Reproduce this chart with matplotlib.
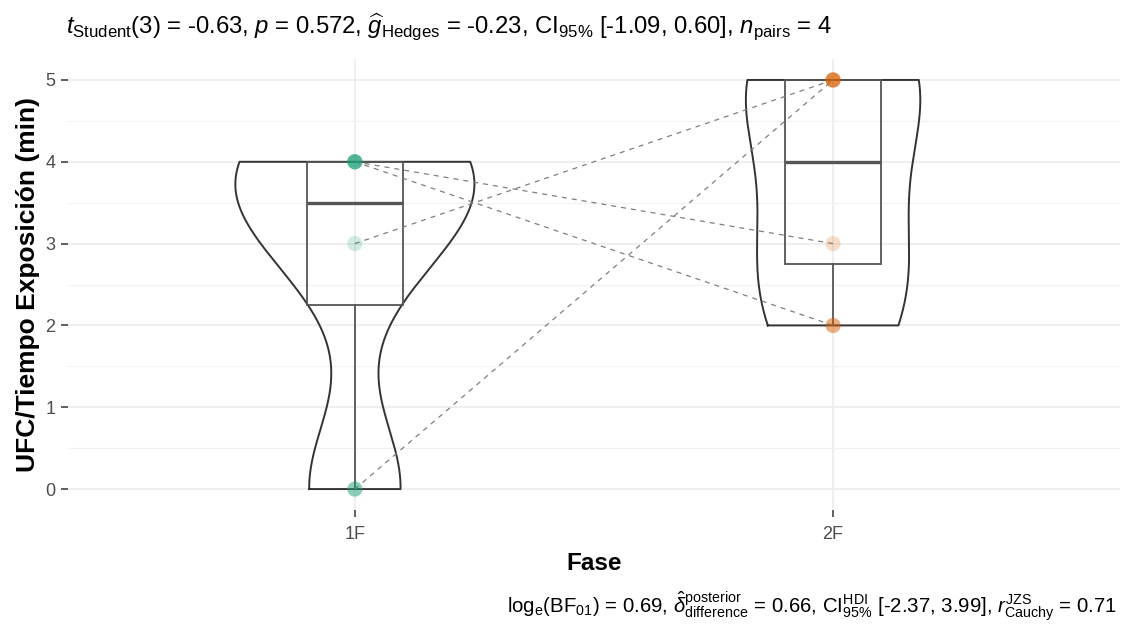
import numpy as np
import matplotlib
matplotlib.use("Agg")
import matplotlib.pyplot as plt
from matplotlib.ticker import MultipleLocator

plt.rcParams["font.family"] = ["Liberation Sans", "DejaVu Sans"]
plt.rcParams["mathtext.fontset"] = "custom"
plt.rcParams["mathtext.rm"] = "Liberation Sans"
plt.rcParams["mathtext.it"] = "Liberation Sans:italic"
plt.rcParams["mathtext.bf"] = "Liberation Sans:bold"

# paired measurements, same order in both phases
fases = ["1F", "2F"]
valores_1f = [0, 3, 4, 4]
valores_2f = [5, 5, 3, 2]
colores = ["#1B9E77", "#D95F02"]
alpha_puntos_1f = [0.5, 0.2, 0.5, 0.5]
alpha_puntos_2f = [0.5, 0.5, 0.2, 0.5]

subtitulo = (r"$t_{\mathrm{Student}}$(3) = -0.63, $p$ = 0.572, "
             r"$\widehat{g}_{\mathrm{Hedges}}$ = -0.23, "
             r"CI$_{95\%}$ [-1.09, 0.60], $n_{\mathrm{pairs}}$ = 4")
pie = (r"log$_{\mathrm{e}}$(BF$_{01}$) = 0.69, "
       r"$\hat{\delta}_{\mathrm{difference}}^{\mathrm{posterior}}$ = 0.66, "
       r"CI$_{95\%}^{\mathrm{HDI}}$ [-2.37, 3.99], "
       r"$r_{\mathrm{Cauchy}}^{\mathrm{JZS}}$ = 0.71")


def bw_nrd0(x):
    x = np.asarray(x, float)
    q1, q3 = np.percentile(x, [25, 75])
    lo = min(np.std(x, ddof=1), (q3 - q1) / 1.34)
    return 0.9 * lo * len(x) ** -0.2


def kde(x, grid):
    x = np.asarray(x, float)
    bw = bw_nrd0(x)
    z = (grid[:, None] - x[None, :]) / bw
    return np.exp(-0.5 * z ** 2).sum(axis=1) / (len(x) * bw * np.sqrt(2 * np.pi))


grupos = [valores_1f, valores_2f]
grids = [np.linspace(min(g), max(g), 512) for g in grupos]
dens = [kde(g, gr) for g, gr in zip(grupos, grids)]
dmax = max(d.max() for d in dens)

fig = plt.figure(figsize=(11.27, 6.35), dpi=100)
ax = fig.add_axes([0.0603, 0.1976, 0.9335, 0.7087])

# violins (scaled by area, width 0.5)
for i, (gr, d) in enumerate(zip(grids, dens)):
    pos = i + 1
    hw = d / dmax * 0.25
    xs = np.concatenate([pos - hw, (pos + hw)[::-1], [pos - hw[0]]])
    ys = np.concatenate([gr, gr[::-1], [gr[0]]])
    ax.plot(xs, ys, color="#333333", lw=1.4, zorder=3)

# boxplots
bp = ax.boxplot(grupos, positions=[1, 2], widths=0.2, showcaps=False,
                showfliers=False, patch_artist=True, manage_ticks=False)
for b in bp["boxes"]:
    b.set(facecolor="none", edgecolor="#555555", linewidth=1.3, zorder=4)
for w in bp["whiskers"]:
    w.set(color="#555555", linewidth=1.3, zorder=4)
for m in bp["medians"]:
    m.set(color="#555555", linewidth=2.4, zorder=4)

# paired paths
for a, b in zip(valores_1f, valores_2f):
    ax.plot([1, 2], [a, b], color="#7F7F7F", lw=0.9, ls=(0, (4, 4)), zorder=5)

# points
for pos, vals, alphas, c in [(1, valores_1f, alpha_puntos_1f, colores[0]),
                             (2, valores_2f, alpha_puntos_2f, colores[1])]:
    for v, a in zip(vals, alphas):
        ax.scatter(pos, v, s=120, color=c, alpha=a, edgecolors="none", zorder=6)

ax.set_xlim(0.4, 2.6)
ax.set_ylim(-0.25, 5.25)
ax.set_xticks([1, 2])
ax.set_xticklabels(fases)
ax.yaxis.set_major_locator(MultipleLocator(1))
ax.yaxis.set_minor_locator(MultipleLocator(0.5))
ax.grid(which="major", color="#EBEBEB", lw=1.1, zorder=0)
ax.grid(which="minor", axis="y", color="#F2F2F2", lw=0.9, zorder=0)
ax.set_axisbelow(True)
for s in ax.spines.values():
    s.set_visible(False)
ax.tick_params(axis="both", which="major", length=5, width=1.1, color="#333333",
               labelsize=13, labelcolor="#4D4D4D")
ax.tick_params(axis="x", which="major", pad=7)
ax.tick_params(axis="y", which="major", pad=4)
ax.tick_params(axis="y", which="minor", length=0)

ax.set_xlabel("Fase", fontsize=17.5, fontweight="bold", labelpad=6)
ax.set_ylabel("UFC/Tiempo Exposición (min)", fontsize=19, fontweight="bold", labelpad=4)

fig.text(0.059, 0.948, subtitulo, fontsize=17.2, ha="left", va="baseline")
fig.text(0.991, 0.035, pie, fontsize=14.7, ha="right", va="baseline")

fig.savefig("out.png", dpi=100)
